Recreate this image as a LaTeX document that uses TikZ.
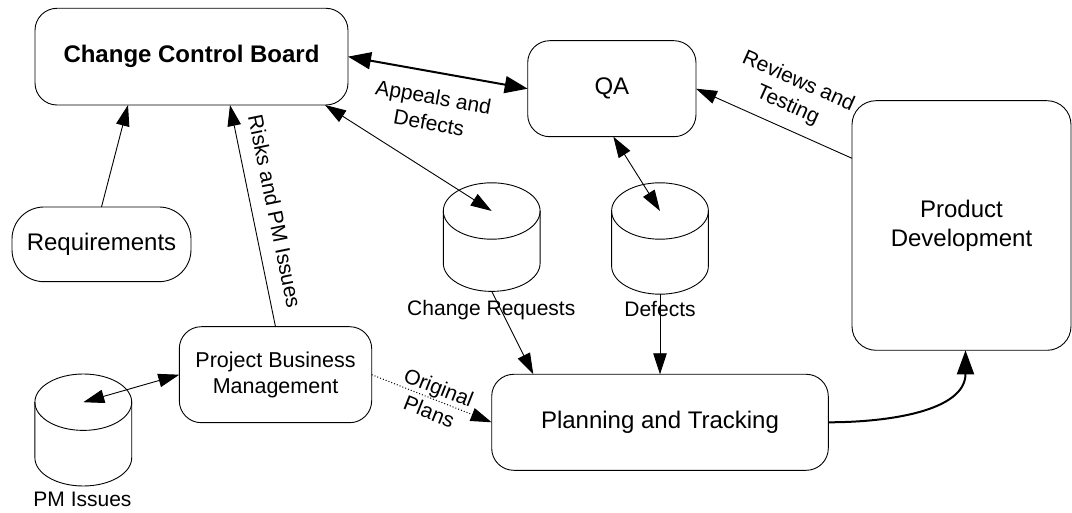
\documentclass[tikz,border=0pt]{standalone}
\usepackage{fontspec}
\setmainfont{Liberation Sans}
\usetikzlibrary{arrows.meta}

\newcommand\bigtext{\fontsize{24}{28.6}\selectfont}
\newcommand\midtext{\fontsize{21.5}{26}\selectfont}
\newcommand\smalltext{\fontsize{21}{26}\selectfont}

% data store drum: name, centre x, top ellipse centre y, bottom ellipse centre y
\newcommand\storedrum[4]{%
  \draw[drum] (#2-48.4,#3) -- (#2-48.4,#4)
     arc[start angle=180,end angle=360,x radius=48.4pt,y radius=28.2pt] -- (#2+48.4,#3);
  \draw[drum] (#2,#3) ellipse[x radius=48.4pt,y radius=28.2pt];
  \coordinate (#1-t) at (#2,#3);
  \coordinate (#1-b) at (#2,#4-28.2);
}

\tikzset{
  box/.style={draw, line width=0.9pt, rounded corners=22pt, outer sep=0pt,
              inner sep=0pt, align=center, font=\bigtext},
  drum/.style={line width=0.9pt},
  dlabel/.style={inner sep=0pt, anchor=base, font=\smalltext},
  elabel/.style={inner sep=0pt, align=center, font=\smalltext},
  conn/.style={draw, line width=0.9pt, -{Triangle[length=21pt,width=13.5pt]}},
  conn2/.style={draw, line width=0.9pt,
                {Triangle[length=21pt,width=13.5pt]}-{Triangle[length=21pt,width=13.5pt]}},
  dotconn/.style={draw, line width=1pt, dotted, -{Triangle[length=21pt,width=13.5pt]}},
  heavy/.style={draw, line width=2pt, -{Triangle[length=24pt,width=17pt]}},
  heavy2/.style={draw, line width=2pt,
                 {Triangle[length=23pt,width=17pt]}-{Triangle[length=23pt,width=17pt]}},
}

\begin{document}
\begin{tikzpicture}[x=1pt,y=1pt]
\useasboundingbox (0,0) rectangle (1072,512);

% process boxes
\node[box, minimum width=313pt, minimum height=96.7pt] (ccb) at (191.5,455.35)
  {\bfseries Change Control Board};
\node[box, rounded corners=32pt, minimum width=179pt, minimum height=74.7pt] (req)
  at (101.5,267.65) {Requirements};
\node[box, minimum width=168.3pt, minimum height=96pt] (qa) at (611.85,423.3) {QA};
\node[box, rounded corners=24pt, minimum width=219pt, minimum height=249.6pt] (pd)
  at (961.5,286.5) {Product\\Development};
\node[box, minimum width=336.6pt, minimum height=96pt] (pt) at (660,89.7)
  {Planning and Tracking};
\node[box, font=\midtext, minimum width=192.4pt, minimum height=96pt] (pbm)
  at (275.5,137.3) {Project Business\\Management};

% data stores
\storedrum{cr}{491.7}{301}{248.8}
\storedrum{df}{660}{301}{246}
\storedrum{pm}{83.3}{109.8}{54.2}
\node[dlabel] (crlbl) at (491.3,196) {Change Requests};
\node[dlabel] (dflbl) at (660,195.3) {Defects};
\node[dlabel] (pmlbl) at (82.5,5.3) {PM Issues};

% flows
\draw[conn] (req.north) -- ([xshift=-63.5pt]ccb.south);
\draw[conn] (pbm.north) --
  node[elabel, sloped, above=14.5pt, pos=0.5] (risklbl) {Risks and PM Issues}
  ([xshift=38.5pt]ccb.south);
\draw[heavy2] (ccb.east) --
  node[elabel, sloped, below=16pt, pos=0.5] (appllbl) {Appeals and\\Defects}
  (qa.west);
\draw[conn2] ([xshift=133.5pt]ccb.south) -- (cr-t);
\draw[conn2] ([xshift=1.5pt]qa.south) -- (df-t);
\draw[conn] ([yshift=67.2pt]pd.west) --
  node[elabel, sloped, above=11.7pt, pos=0.47] (revlbl) {Reviews and\\Testing}
  (qa.east);
\draw[conn2] (pbm.west) -- (pm-t);
\draw[dotconn] (pbm.east) --
  node[elabel, sloped, pos=0.52, anchor=center] (planlbl) {Original\\Plans}
  (pt.west);
\draw[conn] (cr-b) -- ([xshift=-126.7pt]pt.north);
\draw[conn] (df-b) -- (pt.north);
\draw[heavy] (pt.east) to[out=0,in=-90] ([xshift=4pt]pd.south);
\end{tikzpicture}
\end{document}
